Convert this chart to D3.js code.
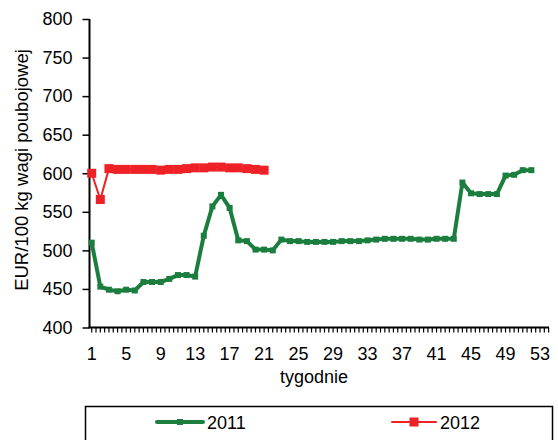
<!DOCTYPE html>
<html>
<head>
<meta charset="utf-8">
<script src="https://cdn.jsdelivr.net/npm/d3@7"></script>
<style>
  html, body { margin: 0; padding: 0; background: #fff; }
  svg { display: block; font-family: "Liberation Sans", Arial, sans-serif; }
</style>
</head>
<body>
<svg id="chart" width="558" height="440"></svg>
<script>
// Weekly prices, EUR per 100 kg carcass weight
const weeks2011 = d3.range(1, 53);
const values2011 = [
  510, 453, 449, 447, 449, 448, 459, 459, 459, 463,
  468, 468, 466, 519, 557, 572, 555, 513, 512, 501,
  501, 500, 514, 512, 512, 511, 511, 511, 511, 512,
  512, 512, 513, 514, 515, 515, 515, 515, 514, 514,
  515, 515, 515, 588, 574, 573, 573, 573, 597, 598,
  604, 604
];
const weeks2012 = d3.range(1, 22);
const values2012 = [
  600, 566, 606, 605, 605, 605, 605, 605, 604, 605,
  605, 606, 607, 607, 608, 608, 607, 607, 606, 605,
  604
];
const seriesNames = ["2011", "2012"];
const yTicks = [400, 450, 500, 550, 600, 650, 700, 750, 800];
const xTickLabels = d3.range(1, 54, 4);
const yTitle = "EUR/100 kg wagi poubojowej";
const xTitle = "tygodnie";

const svg = d3.select("#chart");

const x = d3.scaleLinear().domain([1, 53]).range([91.7, 540]);
const y = d3.scaleLinear().domain([400, 800]).range([327.5, 19]);
const axisLeftX = 89.5;
const axisRightX = 549;
const fontSize = 18;

// Y axis
const yAxis = d3.axisLeft(y).tickValues(yTicks).tickSize(7).tickPadding(10);
const gy = svg.append("g").attr("transform", `translate(${axisLeftX},0)`).call(yAxis);
gy.select(".domain").attr("stroke", "#000").attr("stroke-width", 2)
  .attr("d", `M0,${y(800)}V${y(400)}`);
gy.selectAll(".tick line").attr("stroke", "#000").attr("stroke-width", 1.5);
gy.selectAll(".tick text").attr("font-size", fontSize).attr("fill", "#000")
  .attr("font-family", "Liberation Sans, Arial, sans-serif");

// X axis: half-week tick marks with labels every 4 weeks
const xMinor = d3.range(1, 54.01, 0.5).filter(v => x(v) <= axisRightX);
const gx = svg.append("g").attr("transform", `translate(0,${y(400)})`);
gx.append("line").attr("x1", axisLeftX - 1).attr("x2", axisRightX)
  .attr("y1", 0).attr("y2", 0).attr("stroke", "#000").attr("stroke-width", 2);
gx.selectAll("line.minor").data(xMinor).join("line").attr("class", "minor")
  .attr("x1", d => x(d)).attr("x2", d => x(d))
  .attr("y1", 0).attr("y2", 5).attr("stroke", "#000").attr("stroke-width", 1.2);
gx.selectAll("text.lbl").data(xTickLabels).join("text").attr("class", "lbl")
  .attr("x", d => x(d)).attr("y", 32).attr("text-anchor", "middle")
  .attr("font-size", fontSize).attr("fill", "#000").text(d => d);

// Axis titles
svg.append("text").attr("transform", `translate(28,170) rotate(-90)`)
  .attr("text-anchor", "middle").attr("font-size", 18.5).attr("fill", "#000")
  .text(yTitle);
svg.append("text").attr("x", 314).attr("y", 383).attr("text-anchor", "middle")
  .attr("font-size", fontSize).attr("fill", "#000").text(xTitle);

// Series
const green = "#1b7e3e";
const red = "#ee2226";
const line = d3.line().x(d => x(d[0])).y(d => y(d[1]));

const data2011 = weeks2011.map((w, i) => [w, values2011[i]]);
const data2012 = weeks2012.map((w, i) => [w, values2012[i]]);

svg.append("path").datum(data2011).attr("d", line).attr("fill", "none")
  .attr("stroke", green).attr("stroke-width", 4).attr("stroke-linejoin", "round");
svg.selectAll("rect.m2011").data(data2011).join("rect").attr("class", "m2011")
  .attr("x", d => x(d[0]) - 3).attr("y", d => y(d[1]) - 3)
  .attr("width", 6).attr("height", 6).attr("fill", green);

svg.append("path").datum(data2012).attr("d", line).attr("fill", "none")
  .attr("stroke", red).attr("stroke-width", 2);
svg.selectAll("rect.m2012").data(data2012).join("rect").attr("class", "m2012")
  .attr("x", d => x(d[0]) - 4.5).attr("y", d => y(d[1]) - 4.5)
  .attr("width", 9).attr("height", 9).attr("fill", red);

// Legend
const lg = svg.append("g");
lg.append("rect").attr("x", 85.5).attr("y", 406.5).attr("width", 467).attr("height", 40)
  .attr("fill", "#fff").attr("stroke", "#000").attr("stroke-width", 1.5);
const legendItems = [
  { name: seriesNames[0], color: green, x0: 157, x1: 203, w: 4, m: 6 },
  { name: seriesNames[1], color: red, x0: 392, x1: 436, w: 2, m: 9 }
];
const ly = 422;
legendItems.forEach(it => {
  lg.append("line").attr("x1", it.x0).attr("x2", it.x1).attr("y1", ly).attr("y2", ly)
    .attr("stroke", it.color).attr("stroke-width", it.w).attr("stroke-linecap", "round");
  lg.append("rect").attr("x", (it.x0 + it.x1) / 2 - it.m / 2).attr("y", ly - it.m / 2)
    .attr("width", it.m).attr("height", it.m).attr("fill", it.color);
  lg.append("text").attr("x", it.x1 + 4).attr("y", ly + 6.5).attr("font-size", fontSize)
    .attr("fill", "#000").text(it.name);
});
</script>
</body>
</html>
